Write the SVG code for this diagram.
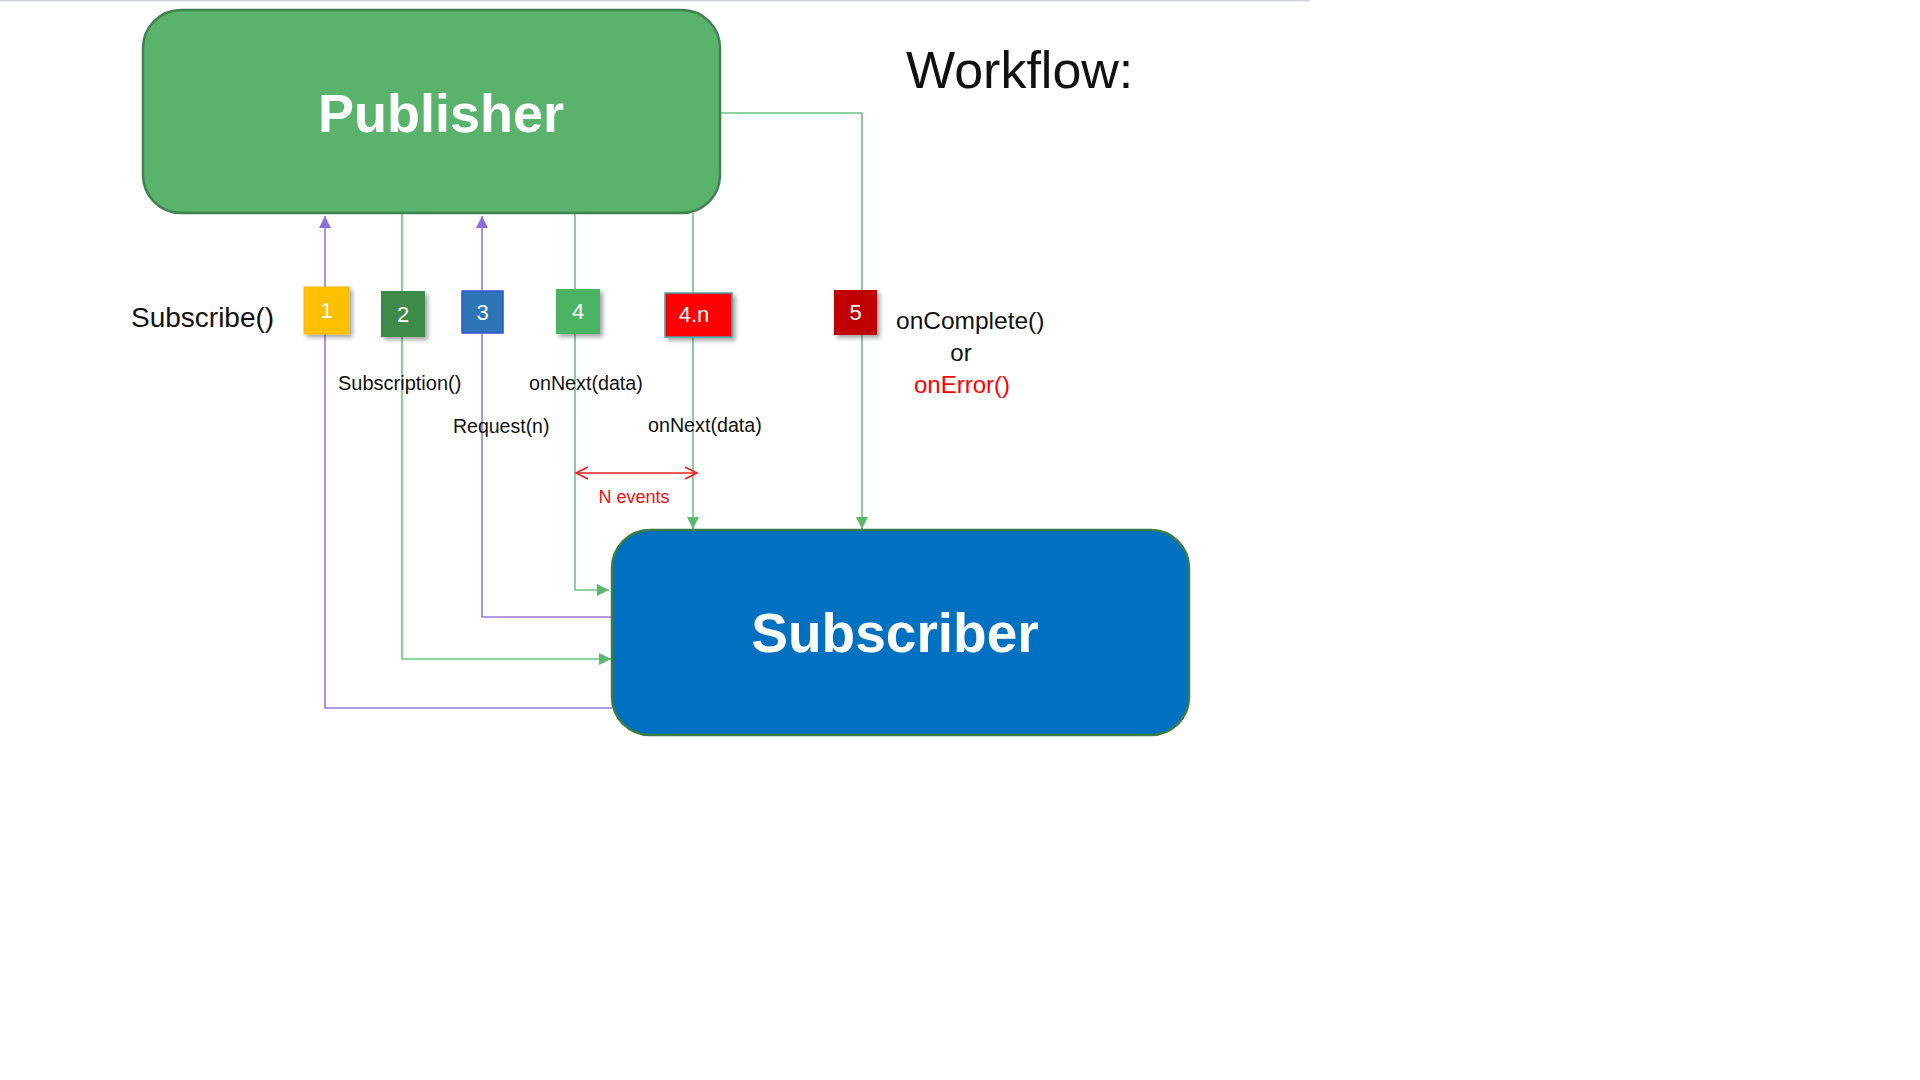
<svg xmlns="http://www.w3.org/2000/svg" width="1920" height="1080" viewBox="0 0 1920 1080">
<style>
.lbl{font-family:"Liberation Sans",Arial,sans-serif;fill:#111;}
.big{font-family:"Liberation Sans",Arial,sans-serif;font-weight:bold;fill:#fff;}
.bt{font-family:"Liberation Sans",Arial,sans-serif;fill:#fff;font-size:22px;text-anchor:middle;}
.g{fill:none;stroke:#6cc283;stroke-width:1.6;}
.p{fill:none;stroke:#9a78e0;stroke-width:1.6;}
</style>
<defs>
<marker id="ag" markerUnits="userSpaceOnUse" markerWidth="12" markerHeight="12" refX="10" refY="5" viewBox="0 0 10 10" orient="auto"><path d="M0 0 L10 5 L0 10 Z" fill="#5cb870"/></marker>
<marker id="ap" markerUnits="userSpaceOnUse" markerWidth="12" markerHeight="12" refX="10" refY="5" viewBox="0 0 10 10" orient="auto"><path d="M0 0 L10 5 L0 10 Z" fill="#8e6ddc"/></marker>
<marker id="ar" markerUnits="userSpaceOnUse" markerWidth="14" markerHeight="14" refX="12" refY="6" viewBox="0 0 14 12" orient="auto"><path d="M0 0 L12 6 L0 12" fill="none" stroke="#ee2222" stroke-width="1.6"/></marker>
<marker id="arS" markerUnits="userSpaceOnUse" markerWidth="14" markerHeight="14" refX="12" refY="6" viewBox="0 0 14 12" orient="auto-start-reverse"><path d="M0 0 L12 6 L0 12" fill="none" stroke="#ee2222" stroke-width="1.6"/></marker>
<filter id="sh" x="-30%" y="-30%" width="170%" height="170%"><feDropShadow dx="3" dy="3" stdDeviation="2" flood-color="#000" flood-opacity="0.35"/></filter>
</defs>
<rect width="1920" height="1080" fill="#fff"/>
<line x1="0" y1="0.5" x2="1310" y2="0.5" stroke="#d3d7dd" stroke-width="2"/>

<g id="connectors">
<path class="p" d="M612 708 H325 V216" marker-end="url(#ap)"/>
<path class="g" d="M402 213 V659 H611" marker-end="url(#ag)"/>
<path class="p" d="M612 617 H482 V216" marker-end="url(#ap)"/>
<path class="g" d="M575 213 V590 H609" marker-end="url(#ag)"/>
<path class="g" d="M693 213 V529" marker-end="url(#ag)"/>
<path class="g" d="M720 113 H862 V529" marker-end="url(#ag)"/>
<line x1="576" y1="473" x2="697" y2="473" stroke="#ee2222" stroke-width="1.6" marker-start="url(#arS)" marker-end="url(#ar)"/>
</g>

<g id="publisher">
<rect x="143" y="10" width="577" height="203" rx="38" fill="#5ab36d" stroke="#3f8250" stroke-width="2.5"/>
<text class="big" x="441" y="132" font-size="54" text-anchor="middle">Publisher</text>
</g>

<g id="subscriber">
<rect x="612" y="530" width="577" height="205" rx="38" fill="#0070c0" stroke="#3a7d45" stroke-width="2.5"/>
<text class="big" x="895" y="652" font-size="55" text-anchor="middle">Subscriber</text>
</g>

<g id="workflow-title">
<text class="lbl" x="906" y="88" font-size="52" fill="#000">Workflow:</text>
</g>

<g id="subscribe-label">
<text class="lbl" x="131" y="327" font-size="28">Subscribe()</text>
</g>

<g id="badge-1">
<rect x="304" y="287" width="45" height="47" fill="#ffc000" stroke="#f0b800" filter="url(#sh)"/>
<text class="bt" x="326.5" y="318">1</text>
</g>
<g id="badge-2">
<rect x="381" y="291" width="44" height="46" fill="#3c8a4c" filter="url(#sh)"/>
<text class="bt" x="403" y="322">2</text>
</g>
<g id="badge-3">
<rect x="462" y="291" width="41" height="42" fill="#2e75b6" stroke="#3050d0" stroke-width="1.5"/>
<text class="bt" x="482.5" y="320">3</text>
</g>
<g id="badge-4">
<rect x="556" y="289" width="44" height="45" fill="#4cb464" filter="url(#sh)"/>
<text class="bt" x="578" y="319">4</text>
</g>
<g id="badge-4n">
<rect x="665" y="293" width="67" height="44" fill="#ff0000" stroke="#4aa3a8" stroke-width="1.5" filter="url(#sh)"/>
<text class="bt" x="694" y="322">4.n</text>
</g>
<g id="badge-5">
<rect x="834" y="290" width="43" height="45" fill="#c00000" filter="url(#sh)"/>
<text class="bt" x="855.5" y="320">5</text>
</g>

<g id="labels">
<text class="lbl" x="338" y="390" font-size="20">Subscription()</text>
<text class="lbl" x="453" y="433" font-size="19.5">Request(n)</text>
<text class="lbl" x="529" y="390" font-size="19.7">onNext(data)</text>
<text class="lbl" x="648" y="432" font-size="19.7">onNext(data)</text>
<text class="lbl" x="634" y="503" font-size="18" fill="#ee1111" text-anchor="middle" style="fill:#ee1111">N events</text>
<text class="lbl" x="896" y="329" font-size="24.5">onComplete()</text>
<text class="lbl" x="961" y="361" font-size="24" text-anchor="middle">or</text>
<text class="lbl" x="962" y="393" font-size="24" text-anchor="middle" style="fill:#ff0000">onError()</text>
</g>
</svg>
